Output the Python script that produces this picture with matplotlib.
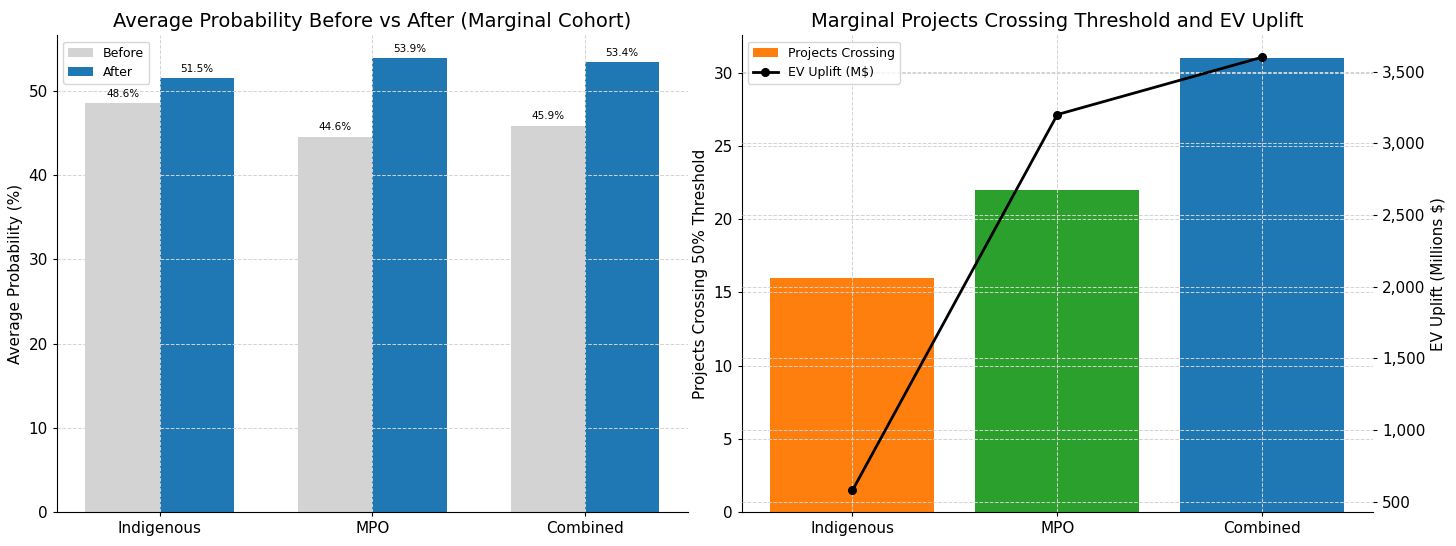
import numpy as np
import matplotlib
matplotlib.use("Agg")
import matplotlib.pyplot as plt
from matplotlib.ticker import FuncFormatter

categories = ["Indigenous", "MPO", "Combined"]
before = [48.6, 44.6, 45.9]
after = [51.5, 53.9, 53.4]
crossing = [16, 22, 31]
ev_uplift = [580, 3200, 3600]
bar_colors = ["#ff7f0e", "#2ca02c", "#1f77b4"]

plt.rcParams["font.family"] = "DejaVu Sans"
plt.rcParams["xtick.major.size"] = 3
plt.rcParams["ytick.major.size"] = 3

fig, (ax1, ax2) = plt.subplots(1, 2, figsize=(14.56, 5.46), dpi=100)
fig.subplots_adjust(left=0.039, right=0.943, bottom=0.062, top=0.935, wspace=0.085)

x = np.arange(len(categories))
w = 0.35
b1 = ax1.bar(x - w / 2, before, w, color="lightgray", label="Before")
b2 = ax1.bar(x + w / 2, after, w, color="#1f77b4", label="After")
for bars in (b1, b2):
    for r in bars:
        ax1.annotate(f"{r.get_height():.1f}%", (r.get_x() + r.get_width() / 2, r.get_height()),
                     xytext=(0, 3), textcoords="offset points", ha="center", va="bottom", fontsize=7.5)
ax1.set_xticks(x)
ax1.set_xticklabels(categories, fontsize=11)
ax1.tick_params(axis="y", labelsize=11)
ax1.set_ylabel("Average Probability (%)", fontsize=11)
ax1.set_title("Average Probability Before vs After (Marginal Cohort)", fontsize=14)
ax1.legend(loc="upper left", fontsize=9)
ax1.grid(True, linestyle="--", color="lightgray", linewidth=0.7)
for s in ("top", "right"):
    ax1.spines[s].set_visible(False)

ax2.bar(x, crossing, 0.8, color=bar_colors, label="Projects Crossing")
ax2.set_xticks(x)
ax2.set_xticklabels(categories, fontsize=11)
ax2.tick_params(axis="y", labelsize=11)
ax2.set_ylabel("Projects Crossing 50% Threshold", fontsize=11)
ax2.grid(True, linestyle="--", color="lightgray", linewidth=0.7)
ax3 = ax2.twinx()
ax3.plot(x, ev_uplift, color="black", marker="o", linewidth=2, markersize=5.5, label="EV Uplift (M$)")
ax3.set_ylabel("EV Uplift (Millions $)", fontsize=11)
ax3.yaxis.set_major_formatter(FuncFormatter(lambda v, p: f"{v:,.0f}"))
ax3.tick_params(axis="y", labelsize=11)
ax3.grid(True, linestyle="--", color="lightgray", linewidth=0.7)
ax2.set_title("Marginal Projects Crossing Threshold and EV Uplift", fontsize=14)
for s in ("top", "right"):
    ax2.spines[s].set_visible(False)
for s in ("top", "right", "left", "bottom"):
    ax3.spines[s].set_visible(False)
h1, l1 = ax2.get_legend_handles_labels()
h2, l2 = ax3.get_legend_handles_labels()
ax3.legend(h1 + h2, l1 + l2, loc="upper left", fontsize=9)

fig.savefig("out.png")
